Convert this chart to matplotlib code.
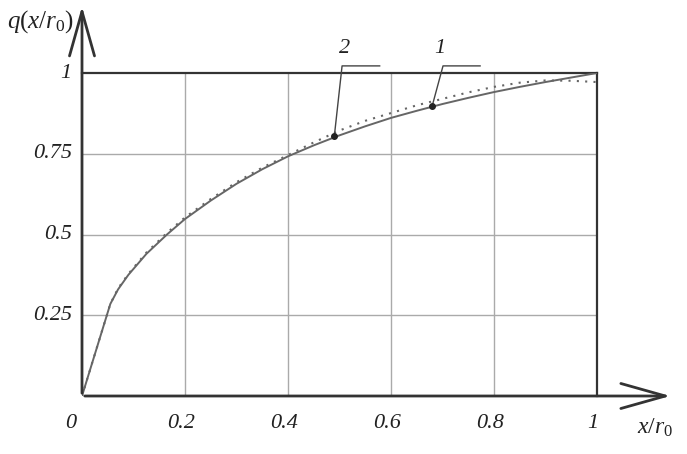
import matplotlib
matplotlib.use('Agg')
import matplotlib.pyplot as plt

# curve 1 (solid) and curve 2 (dotted)
x1 = [0, 0.055, 0.07, 0.09, 0.125, 0.165, 0.2, 0.25, 0.3, 0.35, 0.4, 0.45, 0.5,
      0.55, 0.6, 0.65, 0.7, 0.75, 0.8, 0.85, 0.9, 0.95, 1.0]
q1 = [0, 0.285, 0.33, 0.375, 0.44, 0.5, 0.548, 0.605, 0.657, 0.702, 0.742, 0.776, 0.807,
      0.835, 0.861, 0.883, 0.904, 0.923, 0.941, 0.957, 0.972, 0.986, 1.0]
x2 = [0, 0.055, 0.07, 0.09, 0.125, 0.165, 0.2, 0.25, 0.3, 0.35, 0.4, 0.45, 0.5,
      0.55, 0.6, 0.65, 0.7, 0.75, 0.8, 0.85, 0.9, 0.95, 1.0]
q2 = [0, 0.285, 0.333, 0.378, 0.444, 0.505, 0.553, 0.61, 0.662, 0.707, 0.746, 0.785, 0.822,
      0.852, 0.876, 0.9, 0.92, 0.94, 0.957, 0.97, 0.977, 0.976, 0.972]

xticks = [0.2, 0.4, 0.6, 0.8, 1.0]
xtick_labels = ['0.2', '0.4', '0.6', '0.8', '1']
yticks = [0.25, 0.5, 0.75, 1.0]
ytick_labels = ['0.25', '0.5', '0.75', '1']

# marked points with their labels
marks = [('2', 0.49, 0.805), ('1', 0.68, 0.898)]

plt.rcParams['font.family'] = ['Liberation Serif', 'DejaVu Serif']
plt.rcParams['mathtext.fontset'] = 'custom'
plt.rcParams['mathtext.it'] = 'Liberation Serif:italic'
plt.rcParams['mathtext.rm'] = 'Liberation Serif'
font = dict(style='italic', size=16, color='#222222')

fig = plt.figure(figsize=(6.87, 4.54), dpi=100)
ax = fig.add_axes([82/687, 58/454, 515/687, 323/454])
ax.set_xlim(0, 1)
ax.set_ylim(0, 1)
ax.axis('off')

grid_c = '#aaaaaa'
for xv in xticks[:-1]:
    ax.plot([xv, xv], [0, 1], color=grid_c, lw=1)
for yv in yticks[:-1]:
    ax.plot([0, 1], [yv, yv], color=grid_c, lw=1)

# frame top/right
ax.plot([0, 1], [1, 1], color='#333333', lw=1.6, clip_on=False)
ax.plot([1, 1], [0, 1], color='#333333', lw=1.6, clip_on=False)

# axes with open arrow heads
arrow = dict(arrowstyle='->,head_length=3.2,head_width=0.9', lw=2, color='#333333')
ax.annotate('', xy=(1.148, 0), xytext=(0, 0), arrowprops=arrow, annotation_clip=False)
ax.annotate('', xy=(0, 1.215), xytext=(0, 0), arrowprops=arrow, annotation_clip=False)

ax.plot(x1, q1, color='#666666', lw=1.4)
ax.plot(x2, q2, color='#666666', lw=1.5, ls=(0, (1, 3)))

# leaders
lead = [((0.49, 0.805), (0.505, 1.022), (0.578, 1.022)),
        ((0.68, 0.898), (0.701, 1.022), (0.773, 1.022))]
lab_x = [0.51, 0.695]
for (lab, px, py), (p0, p1, p2), lx in zip(marks, lead, lab_x):
    ax.plot([p0[0], p1[0], p2[0]], [p0[1], p1[1], p2[1]], color='#444444', lw=1, clip_on=False)
    ax.plot(px, py, 'o', color='#222222', ms=4)
    ax.text(lx, 1.075, lab, ha='center', va='center', **font)

for xv, lab in zip(xticks, xtick_labels):
    ax.text(xv - 0.008, -0.085, lab, ha='center', va='center', **font)
ax.text(-0.021, -0.085, '0', ha='center', va='center', **font)
for yv, lab in zip(yticks, ytick_labels):
    ax.text(-0.02, yv, lab, ha='right', va='center', **font)

ax.text(-0.08, 1.158, r'$q(x/r_0)$', ha='center', va='center', fontsize=18, color='#222222')
ax.text(1.113, -0.1, r'$x/r_0$', ha='center', va='center', fontsize=17, color='#222222')

fig.savefig('out.png', dpi=100)
